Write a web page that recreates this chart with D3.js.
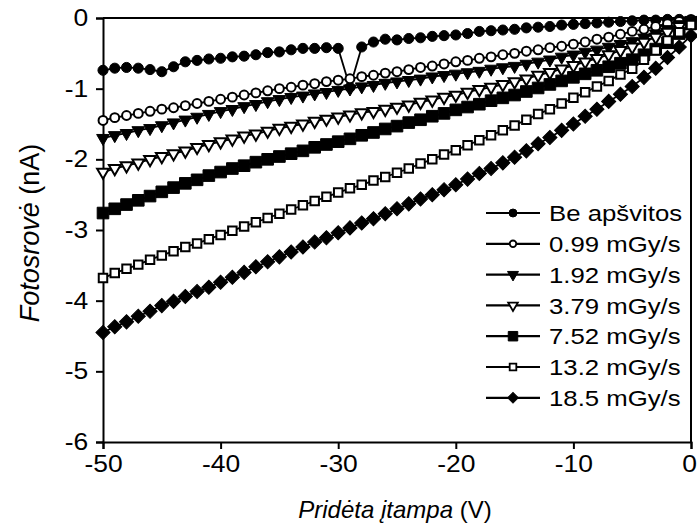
<!DOCTYPE html>
<html>
<head>
<meta charset="utf-8">
<script src="https://cdn.jsdelivr.net/npm/d3@7/dist/d3.min.js"></script>
<style>
  body { margin: 0; background: #fff; }
  text { font-family: "Liberation Sans", Arial, Helvetica, sans-serif; fill: #000; }
</style>
</head>
<body>
<svg id="chart" width="697" height="528"></svg>
<script>
// Applied voltage (V), one reading per volt
const voltages = [-50,-49,-48,-47,-46,-45,-44,-43,-42,-41,-40,-39,-38,-37,-36,-35,-34,-33,-32,-31,-30,
  -29,-28,-27,-26,-25,-24,-23,-22,-21,-20,-19,-18,-17,-16,-15,-14,-13,-12,-11,-10,
  -9,-8,-7,-6,-5,-4,-3,-2,-1,0];

const seriesNames = ["Be apšvitos", "0.99 mGy/s", "1.92 mGy/s", "3.79 mGy/s", "7.52 mGy/s", "13.2 mGy/s", "18.5 mGy/s"];

// Photocurrent (nA) for each dose rate
const dark = [-0.74,-0.71,-0.70,-0.71,-0.73,-0.76,-0.69,-0.62,-0.60,-0.58,-0.57,-0.55,-0.54,-0.52,-0.49,-0.48,-0.45,-0.43,-0.43,-0.42,-0.43,
  -0.98,-0.41,-0.34,-0.30,-0.31,-0.29,-0.28,-0.26,-0.25,-0.24,-0.22,-0.19,-0.18,-0.17,-0.16,-0.14,-0.13,-0.12,-0.10,-0.09,
  -0.08,-0.07,-0.06,-0.05,-0.04,-0.03,-0.03,-0.02,-0.02,-0.06];
const dose099 = [-1.45,-1.41,-1.38,-1.35,-1.32,-1.29,-1.27,-1.24,-1.21,-1.18,-1.15,-1.12,-1.09,-1.06,-1.03,-1.00,-0.98,-0.95,-0.93,-0.90,-0.88,
  -0.86,-0.83,-0.81,-0.78,-0.76,-0.73,-0.70,-0.68,-0.65,-0.62,-0.60,-0.57,-0.55,-0.52,-0.50,-0.47,-0.45,-0.42,-0.40,-0.37,
  -0.34,-0.30,-0.27,-0.23,-0.19,-0.16,-0.12,-0.08,-0.05,-0.02];
const dose192 = [-1.70,-1.66,-1.63,-1.59,-1.56,-1.52,-1.48,-1.44,-1.40,-1.36,-1.32,-1.29,-1.25,-1.22,-1.18,-1.15,-1.12,-1.10,-1.07,-1.05,-1.02,
  -1.00,-0.97,-0.95,-0.92,-0.90,-0.88,-0.86,-0.83,-0.81,-0.79,-0.77,-0.75,-0.72,-0.70,-0.68,-0.65,-0.62,-0.59,-0.55,-0.52,
  -0.48,-0.45,-0.41,-0.37,-0.33,-0.28,-0.22,-0.16,-0.09,-0.03];
const dose379 = [-2.18,-2.13,-2.09,-2.05,-2.00,-1.96,-1.92,-1.88,-1.83,-1.79,-1.75,-1.71,-1.67,-1.64,-1.60,-1.56,-1.53,-1.50,-1.46,-1.43,-1.40,
  -1.37,-1.34,-1.32,-1.29,-1.26,-1.23,-1.19,-1.16,-1.12,-1.09,-1.05,-1.01,-0.98,-0.94,-0.90,-0.86,-0.81,-0.77,-0.72,-0.67,
  -0.62,-0.57,-0.52,-0.46,-0.41,-0.34,-0.27,-0.20,-0.12,-0.05];
const dose752 = [-2.76,-2.70,-2.64,-2.58,-2.52,-2.46,-2.40,-2.34,-2.29,-2.23,-2.18,-2.13,-2.09,-2.04,-2.00,-1.96,-1.92,-1.88,-1.83,-1.79,-1.75,
  -1.71,-1.66,-1.62,-1.57,-1.53,-1.48,-1.44,-1.39,-1.35,-1.30,-1.26,-1.22,-1.17,-1.13,-1.09,-1.04,-0.99,-0.94,-0.89,-0.84,
  -0.79,-0.74,-0.69,-0.64,-0.59,-0.52,-0.44,-0.35,-0.22,-0.08];
const dose132 = [-3.68,-3.61,-3.55,-3.49,-3.42,-3.36,-3.30,-3.24,-3.19,-3.13,-3.07,-3.01,-2.95,-2.89,-2.83,-2.77,-2.71,-2.65,-2.59,-2.53,-2.47,
  -2.41,-2.36,-2.30,-2.25,-2.19,-2.13,-2.06,-2.00,-1.93,-1.87,-1.80,-1.73,-1.66,-1.59,-1.52,-1.44,-1.36,-1.29,-1.21,-1.13,
  -1.05,-0.97,-0.89,-0.80,-0.72,-0.59,-0.46,-0.32,-0.20,-0.10];
const dose185 = [-4.45,-4.37,-4.30,-4.22,-4.15,-4.07,-4.01,-3.94,-3.87,-3.81,-3.74,-3.67,-3.60,-3.52,-3.45,-3.38,-3.31,-3.24,-3.17,-3.11,-3.04,
  -2.97,-2.90,-2.84,-2.77,-2.70,-2.63,-2.56,-2.50,-2.43,-2.36,-2.28,-2.20,-2.13,-2.05,-1.97,-1.88,-1.78,-1.69,-1.59,-1.50,
  -1.39,-1.29,-1.18,-1.08,-0.97,-0.84,-0.71,-0.56,-0.41,-0.25];

const xTicks = [-50, -40, -30, -20, -10, 0];
const yTicks = [0, -1, -2, -3, -4, -5, -6];

const seriesValues = [dark, dose099, dose192, dose379, dose752, dose132, dose185];

// marker style for each series: shape, filled or hollow, symbol area
const markerStyles = [
  { shape: "circle",   filled: true,  size: 80 },
  { shape: "circle",   filled: false, size: 62 },
  { shape: "triDown",  filled: true,  size: 70 },
  { shape: "triDown",  filled: false, size: 60 },
  { shape: "square",   filled: true,  size: 135 },
  { shape: "square",   filled: false, size: 72 },
  { shape: "diamond",  filled: true,  size: 100 }
];
const legendSizes = [50, 34, 52, 40, 90, 44, 56];

const svg = d3.select("#chart");
const x = d3.scaleLinear().domain([-50, 0]).range([103, 691]);
const y = d3.scaleLinear().domain([-6, 0]).range([442, 18]);

function symbolPath(shape, size) {
  if (shape === "circle") return d3.symbol(d3.symbolCircle, size)();
  if (shape === "triDown") return d3.symbol(d3.symbolTriangle, size)();
  return d3.symbol(d3.symbolSquare, size)();
}
function symbolRotate(shape) {
  if (shape === "triDown") return " rotate(180)";
  if (shape === "diamond") return " rotate(45)";
  return "";
}

// plot frame (top and right edges)
svg.append("line").attr("x1", 103).attr("x2", 692).attr("y1", 18).attr("y2", 18)
  .attr("stroke", "#000").attr("stroke-width", 2);
svg.append("line").attr("x1", 691).attr("x2", 691).attr("y1", 17).attr("y2", 442)
  .attr("stroke", "#000").attr("stroke-width", 2);

// axes
const numFmt = d => d < 0 ? "-" + Math.abs(d) : String(d);
const xAxis = svg.append("g").attr("transform", "translate(0,442)")
  .call(d3.axisBottom(x).tickValues(xTicks).tickSize(7).tickPadding(7).tickFormat(numFmt));
const yAxis = svg.append("g").attr("transform", "translate(103,0)")
  .call(d3.axisLeft(y).tickValues(yTicks).tickSize(7).tickPadding(8).tickFormat(numFmt));
[xAxis, yAxis].forEach(g => {
  g.select(".domain").attr("stroke", "#000").attr("stroke-width", 2);
  g.selectAll(".tick line").attr("stroke", "#000").attr("stroke-width", 2);
  g.selectAll(".tick text").attr("font-size", 23).attr("font-family", "Liberation Sans, Arial, sans-serif");
});
// slightly wide lettering on the tick labels; the last x label sits against the right edge
xAxis.selectAll(".tick text").attr("transform", d => d === 0 ? "translate(-2,0) scale(1.15,1)" : "scale(1.15,1)");
yAxis.selectAll(".tick text").attr("transform", "translate(-17,0) scale(1.15,1) translate(17,0)");

// axis titles
const xt = svg.append("text").attr("x", 395).attr("y", 518).attr("text-anchor", "middle").attr("font-size", 24);
xt.append("tspan").attr("font-style", "italic").text("Pridėta įtampa ");
xt.append("tspan").text("(V)");
const yt = svg.append("text").attr("transform", "translate(39,233) rotate(-90)")
  .attr("text-anchor", "middle").attr("font-size", 27);
yt.append("tspan").attr("font-style", "italic").text("Fotosrovė ");
yt.append("tspan").text("(nA)");

// series: connecting line plus a marker at each reading
const line = d3.line().x((d, i) => x(voltages[i])).y(d => y(d));
seriesValues.forEach((vals, si) => {
  const st = markerStyles[si];
  const g = svg.append("g");
  g.append("path").attr("d", line(vals)).attr("fill", "none").attr("stroke", "#000").attr("stroke-width", 1.8);
  g.selectAll("path.m").data(vals).join("path").attr("class", "m")
    .attr("d", symbolPath(st.shape, st.size))
    .attr("transform", (d, i) => `translate(${x(voltages[i])},${y(d)})${symbolRotate(st.shape)}`)
    .attr("fill", st.filled ? "#000" : "#fff")
    .attr("stroke", "#000").attr("stroke-width", st.filled ? 1 : 2);
});

// legend
const legend = svg.append("g");
seriesNames.forEach((name, i) => {
  const cy = 213 + i * 30.8;
  const st = markerStyles[i];
  legend.append("line").attr("x1", 486).attr("x2", 540).attr("y1", cy).attr("y2", cy)
    .attr("stroke", "#000").attr("stroke-width", 2.2);
  legend.append("path").attr("d", symbolPath(st.shape, legendSizes[i]))
    .attr("transform", `translate(513,${cy})${symbolRotate(st.shape)}`)
    .attr("fill", st.filled ? "#000" : "#fff").attr("stroke", "#000").attr("stroke-width", st.filled ? 1 : 1.8);
  legend.append("text").attr("transform", `translate(549,${cy}) scale(1.12,1)`).attr("dy", "0.36em")
    .attr("font-size", 23).text(name);
});
</script>
</body>
</html>
